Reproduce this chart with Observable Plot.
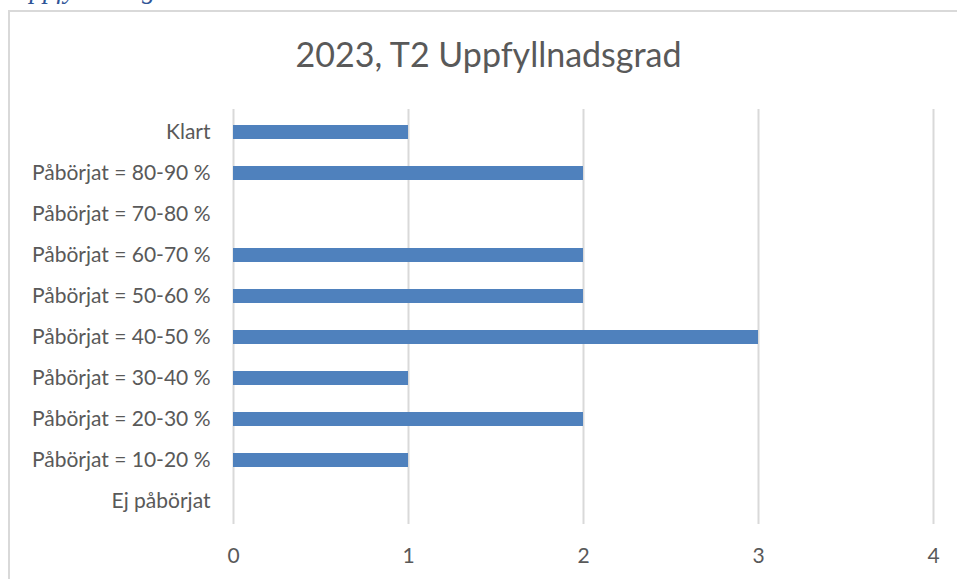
<!DOCTYPE html>
<html>
<head>
<meta charset="utf-8">
<script src="https://cdn.jsdelivr.net/npm/d3@7"></script>
<script src="https://cdn.jsdelivr.net/npm/@observablehq/plot@0.6"></script>
<style>
  html, body { margin: 0; padding: 0; background: #fff; width: 957px; height: 579px; overflow: hidden; }
  #frame { position: absolute; left: 8px; top: 10px; width: 1000px; height: 600px; border: 2px solid #d9d9d9; box-sizing: border-box; }
  #heading { position: absolute; left: 10px; top: -26px; font-family: "Liberation Serif", serif; font-style: italic; font-size: 27px; line-height: 30px; color: #2f5597; }
  #clip { position: absolute; left: 0; top: 0; width: 957px; height: 6px; overflow: hidden; }
  #title { position: absolute; left: 0; width: 977px; top: 33px; text-align: center; font-family: Lato, sans-serif; font-size: 34px; color: #595959; }
  #chart { position: absolute; left: 0; top: 0; }
</style>
</head>
<body>
<div id="clip"><div id="heading">Uppfyllnadsgrad</div></div>
<div id="frame"></div>
<div id="title">2023, T2 Uppfyllnadsgrad</div>
<div id="chart"></div>
<script>
const categories = [
  "Klart",
  "Påbörjat = 80-90 %",
  "Påbörjat = 70-80 %",
  "Påbörjat = 60-70 %",
  "Påbörjat = 50-60 %",
  "Påbörjat = 40-50 %",
  "Påbörjat = 30-40 %",
  "Påbörjat = 20-30 %",
  "Påbörjat = 10-20 %",
  "Ej påbörjat"
];
const values = [1, 2, 0, 2, 2, 3, 1, 2, 1, 0];
const xTicks = [0, 1, 2, 3, 4];

const data = categories.map((c, i) => ({category: c, value: values[i]}));

const chart = Plot.plot({
  width: 957,
  height: 579,
  marginLeft: 233,
  marginRight: 24,
  marginTop: 109,
  marginBottom: 55,
  style: {fontFamily: "Lato, sans-serif", fontSize: "21px", color: "#595959", background: "transparent"},
  x: {domain: [0, 4], ticks: xTicks, tickFormat: d3.format("d"), tickSize: 0, tickPadding: 24, label: null},
  y: {domain: categories, paddingInner: 0.66, paddingOuter: 0.33, tickSize: 0, tickPadding: 23, label: null},
  marks: [
    Plot.gridX(xTicks, {stroke: "#d9d9d9", strokeOpacity: 1, strokeWidth: 2}),
    Plot.barX(data, {x: "value", y: "category", fill: "#4f81bd"})
  ]
});
document.getElementById("chart").appendChild(chart);
</script>
</body>
</html>
